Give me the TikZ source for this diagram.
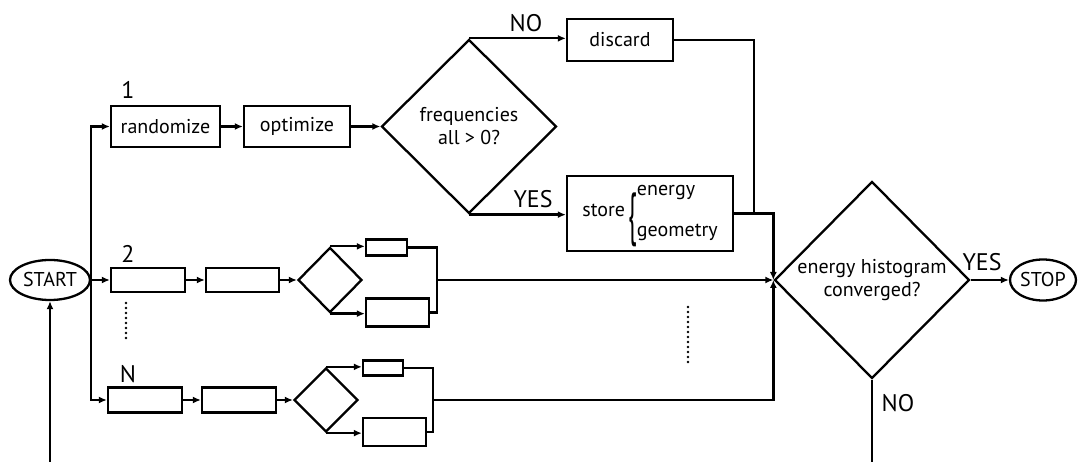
\documentclass[tikz,border=0pt]{standalone}
\usepackage{fontspec}
\setmainfont{PT Sans}
\usepackage{graphicx}
\usetikzlibrary{shapes.geometric,arrows.meta}
\begin{document}
\begin{tikzpicture}[x=1pt,y=-1pt, line width=2.3pt,
  every node/.style={font=\fontsize{20}{23}\selectfont},
  box/.style={draw, rectangle, inner sep=0pt, line width=2.3pt},
  dia/.style={draw, diamond, inner sep=0pt, line width=2.3pt, align=center},
  term/.style={draw, ellipse, inner sep=0pt, line width=2.3pt},
  lab/.style={font=\fontsize{24}{26}\selectfont, inner sep=0pt},
  arr/.style={-{Latex[length=8pt,width=7pt]}},
  dotline/.style={line width=2.6pt, line cap=round, dash pattern=on 0pt off 5pt}]
\useasboundingbox (0,0) rectangle (1080,462);
\fill[white] (0,0) rectangle (1080,462);

% terminals and main row
\node[term, minimum width=80pt, minimum height=40pt] (start) at (50,280) {START};
\node[box, minimum width=109pt, minimum height=41pt] (rand) at (165.5,126.5) {randomize};
\node[box, minimum width=106pt, minimum height=41pt] (opt) at (297,126.5) {optimize};
\node[dia, minimum width=175pt, minimum height=174pt] (freq) at (469,126.5) {frequencies\\all > 0?};
\node[box, minimum width=106pt, minimum height=42pt] (disc) at (620,40) {discard};
\node[box, minimum width=166pt, minimum height=75pt] (store) at (650,213.5)
  {store\,\raisebox{-17pt}{\scalebox{1.25}[2.9]{\{}}\begin{tabular}[c]{@{}l@{}}energy\\[18pt]geometry\end{tabular}};
\node[dia, minimum width=195pt, minimum height=197pt] (big) at (872,280) {energy histogram\\converged?};
\node[term, minimum width=66pt, minimum height=41pt] (stop) at (1043,280) {STOP};

% row 2
\node[box, minimum width=74pt, minimum height=24pt] (a2) at (148,280) {};
\node[box, minimum width=73pt, minimum height=24pt] (b2) at (242.5,280) {};
\node[dia, minimum width=64pt, minimum height=65pt] (d2) at (330,280) {};
\node[box, minimum width=41pt, minimum height=16pt] (u2) at (386.5,247.5) {};
\node[box, minimum width=63pt, minimum height=28pt] (l2) at (397.5,312.5) {};
\coordinate (j2) at (437,280);

% row N
\node[box, minimum width=74pt, minimum height=25pt] (aN) at (145,400) {};
\node[box, minimum width=74pt, minimum height=25pt] (bN) at (239,400) {};
\node[dia, minimum width=64pt, minimum height=64pt] (dN) at (326,400) {};
\node[box, minimum width=40pt, minimum height=15pt] (uN) at (383,368) {};
\node[box, minimum width=63pt, minimum height=28pt] (lN) at (394.5,432) {};
\coordinate (jN) at (433,400);

% labels
\node[lab] (lab1) at (128,90) {1};
\node[lab] (lab2) at (128,254) {2};
\node[lab] (labN) at (128,374) {N};
\node[lab] (no1) at (526,23) {NO};
\node[lab] (yes1) at (533,199) {YES};
\node[lab] (yes2) at (982,262) {YES};
\node[lab] (no2) at (898,403) {NO};

% connectors
\draw[arr] (start.east) |- (rand.west);
\draw[arr] (start.east) -- (a2.west);
\draw[arr] (start.east) |- (aN.west);
\draw[arr] (rand) -- (opt);
\draw[arr] (opt) -- (freq);
\draw[arr] (freq.north) -- (freq.north -| disc.west);
\draw[arr] (freq.south) -- (freq.south -| store.west);
\coordinate (dj) at (754,213.5);
\draw (disc.east) -| (dj);
\draw[arr] (store.east) -| (big.west);

\draw[arr] (a2) -- (b2);
\draw[arr] (b2) -- (d2);
\draw[arr] (d2.north) -- (d2.north -| u2.west);
\draw[arr] (d2.south) -- (d2.south -| l2.west);
\draw (u2.east) -| (j2);
\draw (l2.east) -| (j2);
\draw[arr] (j2) -- (big.west);

\draw[arr] (aN) -- (bN);
\draw[arr] (bN) -- (dN);
\draw[arr] (dN.north) -- (dN.north -| uN.west);
\draw[arr] (dN.south) -- (dN.south -| lN.west);
\draw (uN.east) -| (jN);
\draw (lN.east) -| (jN);
\draw[arr] (jN) -| (big.west);

\draw[arr] (big.east) -- (stop.west);
\coordinate (lr) at (872,462);
\draw (big.south) -- (lr);
\coordinate (ll) at (50,462);
\draw[arr] (ll) -- (start.south);

% ellipsis dots
\draw[dotline] (126,303) -- (126,342);
\draw[dotline] (688,307) -- (688,362);
\end{tikzpicture}
\end{document}
